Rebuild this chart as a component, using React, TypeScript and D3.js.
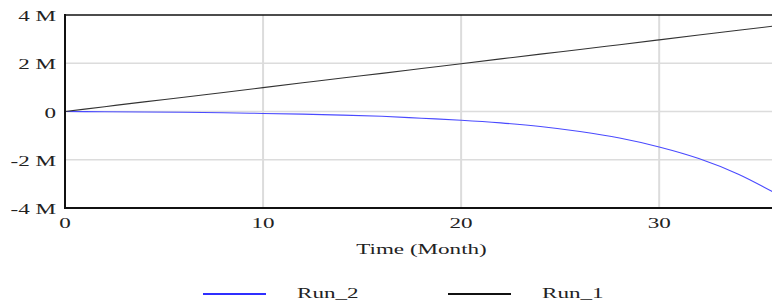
import React, { useEffect, useRef } from "react";
import * as d3 from "d3";

// months
const months = [0, 2, 4, 6, 8, 10, 12, 14, 16, 18, 20, 22, 24, 26, 28, 30, 32, 34, 36];
// values in millions
const run2 = [0, -0.01, -0.02, -0.03, -0.05, -0.08, -0.11, -0.15, -0.2, -0.28, -0.36, -0.47, -0.62, -0.83, -1.1, -1.47, -1.95, -2.6, -3.45];
const run1 = [0, 0.2, 0.4, 0.59, 0.79, 0.99, 1.19, 1.39, 1.58, 1.78, 1.98, 2.18, 2.38, 2.57, 2.77, 2.97, 3.17, 3.37, 3.56];
const yTicks = [-4, -2, 0, 2, 4];
const yTickLabels = ["-4 M", "-2 M", "0", "2 M", "4 M"];
const xTicks = [0, 10, 20, 30];
const series = [
  { name: "Run_2", values: run2, color: "#4a4aff", legend: "#2f2fff" },
  { name: "Run_1", values: run1, color: "#333333", legend: "#111111" },
];

const W = 772;
const H = 300;
const SX = 1.65; // text in the picture is stretched sideways
const FONT = "'Liberation Serif', 'DejaVu Serif', serif";

export default function App() {
  const ref = useRef<SVGSVGElement>(null);

  useEffect(() => {
    document.body.style.margin = "0";
    if (!ref.current) return;
    const svg = d3.select(ref.current);
    svg.selectAll("*").remove();

    const x = d3.scaleLinear().domain([0, 36]).range([65, 778]);
    const y = d3.scaleLinear().domain([-4, 4]).range([208, 15]);

    const label = (
      g: any,
      tx: number,
      ty: number,
      text: string,
      anchor: string
    ) => {
      g.append("g")
        .attr("transform", `translate(${tx},${ty}) scale(${SX},1)`)
        .append("text")
        .attr("text-anchor", anchor)
        .attr("font-family", FONT)
        .attr("font-size", 14)
        .attr("fill", "#222")
        .text(text);
    };

    // grid
    svg
      .append("g")
      .selectAll("line")
      .data(yTicks.filter((d) => d > -4 && d < 4))
      .enter()
      .append("line")
      .attr("x1", x(0))
      .attr("x2", W)
      .attr("y1", (d) => y(d))
      .attr("y2", (d) => y(d))
      .attr("stroke", "#dcdcdc")
      .attr("stroke-width", 1.5);

    svg
      .append("g")
      .selectAll("line")
      .data(xTicks.filter((d) => d > 0))
      .enter()
      .append("line")
      .attr("x1", (d) => x(d))
      .attr("x2", (d) => x(d))
      .attr("y1", y(4))
      .attr("y2", y(-4))
      .attr("stroke", "#dcdcdc")
      .attr("stroke-width", 2);

    // series
    const line = d3
      .line<number>()
      .x((_, i) => x(months[i]))
      .y((d) => y(d))
      .curve(d3.curveMonotoneX);

    series.forEach((s) => {
      svg
        .append("path")
        .attr("d", line(s.values))
        .attr("fill", "none")
        .attr("stroke", s.color)
        .attr("stroke-width", 1.1);
    });

    // frame
    svg
      .append("line")
      .attr("x1", x(0))
      .attr("x2", W)
      .attr("y1", y(4))
      .attr("y2", y(4))
      .attr("stroke", "#111")
      .attr("stroke-width", 1.5);
    svg
      .append("line")
      .attr("x1", x(0))
      .attr("x2", W)
      .attr("y1", y(-4))
      .attr("y2", y(-4))
      .attr("stroke", "#111")
      .attr("stroke-width", 2);
    svg
      .append("line")
      .attr("x1", x(0))
      .attr("x2", x(0))
      .attr("y1", y(4) - 1)
      .attr("y2", y(-4) + 1)
      .attr("stroke", "#111")
      .attr("stroke-width", 2);

    // tick labels
    yTicks.forEach((t, i) => label(svg, 56, y(t) + 6, yTickLabels[i], "end"));
    xTicks.forEach((t) => label(svg, x(t), 228, String(t), "middle"));

    label(svg, (x(0) + x(36)) / 2, 254, "Time (Month)", "middle");

    // legend
    const legendX = [203, 448];
    series.forEach((s, i) => {
      svg
        .append("line")
        .attr("x1", legendX[i])
        .attr("x2", legendX[i] + 63)
        .attr("y1", 294)
        .attr("y2", 294)
        .attr("stroke", s.legend)
        .attr("stroke-width", 2);
      label(svg, legendX[i] + 94, 298, s.name, "start");
    });
  }, []);

  return <svg ref={ref} width={W} height={H} style={{ display: "block", background: "#fff" }} />;
}
